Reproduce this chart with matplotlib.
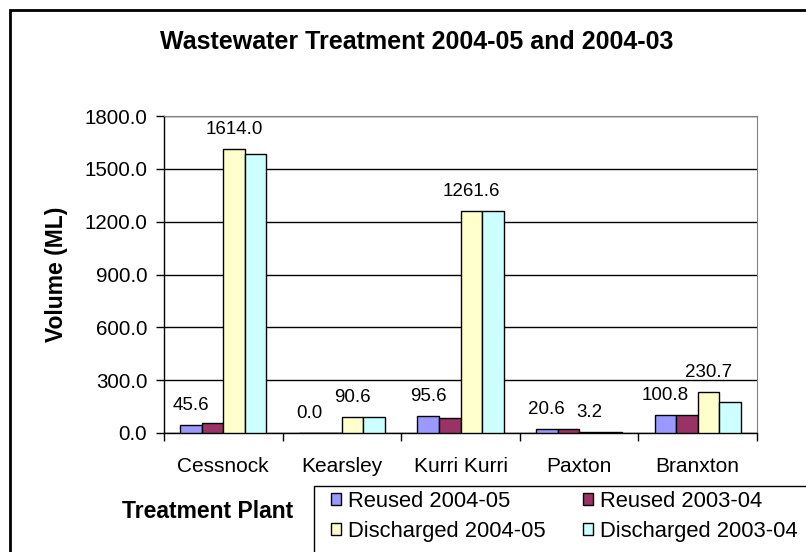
import matplotlib.pyplot as plt
from matplotlib.patches import Rectangle

# dados das estações de tratamento (volumes em ML)
plantas = ["Cessnock", "Kearsley", "Kurri Kurri", "Paxton", "Branxton"]
reused_0405 = [45.6, 0.0, 95.6, 20.6, 100.8]
reused_0304 = [56.0, 0.0, 85.0, 20.0, 100.0]
discharged_0405 = [1614.0, 90.6, 1261.6, 3.2, 230.7]
discharged_0304 = [1585.0, 90.0, 1261.0, 8.0, 175.0]

nomes_series = ["Reused 2004-05", "Reused 2003-04", "Discharged 2004-05", "Discharged 2003-04"]
cores = ["#9999FF", "#993366", "#FFFFCC", "#CCFFFF"]
yticks = [0, 300, 600, 900, 1200, 1500, 1800]

plt.rcParams["font.family"] = ["Liberation Sans", "DejaVu Sans"]

W, H = 806, 552
fig = plt.figure(figsize=(W / 100, H / 100), dpi=100)
ax = fig.add_axes([164 / W, 1 - 433 / H, (757 - 164) / W, (433 - 116) / H])

series = [reused_0405, reused_0304, discharged_0405, discharged_0304]
largura = 1 / 5.5
x = list(range(len(plantas)))

barras = []
for i, valores in enumerate(series):
    pos = [xi + (i - 1.5) * largura for xi in x]
    b = ax.bar(pos, valores, width=largura, color=cores[i], edgecolor="black",
               linewidth=1, label=nomes_series[i], zorder=3)
    barras.append(b)

# rótulos só nas séries de 2004-05
for i in [0, 2]:
    ax.bar_label(barras[i], labels=[f"{v:.1f}" for v in series[i]], padding=8,
                 fontsize=13.5)

ax.set_xlim(-0.5, len(plantas) - 0.5)
ax.set_ylim(0, 1800)
ax.set_yticks(yticks)
ax.set_yticklabels([f"{v:.1f}" for v in yticks], fontsize=14.8)
ax.set_xticks(x)
ax.set_xticklabels(plantas, fontsize=15)
ax.set_xticks([xi - 0.5 for xi in range(len(plantas) + 1)], minor=True)
ax.tick_params(axis="x", which="major", length=0, pad=17)
ax.tick_params(axis="x", which="minor", length=6, width=1, direction="out")
ax.tick_params(axis="y", length=6, width=1, direction="out", pad=6)

ax.grid(axis="y", color="black", linewidth=1, zorder=0)
for lado in ["top", "right"]:
    ax.spines[lado].set_color("#808080")
ax.spines["left"].set_linewidth(1)
ax.spines["bottom"].set_linewidth(1)

ax.set_ylabel("Volume (ML)", fontsize=16.5, fontweight="bold", labelpad=12)

fig.text(417 / W, 1 - 42 / H, "Wastewater Treatment 2004-05 and 2004-03",
         fontsize=18, fontweight="bold", ha="center", va="center")
fig.text(208 / W, 1 - 511 / H, "Treatment Plant", fontsize=16.5,
         fontweight="bold", ha="center", va="center")

# legenda embaixo à direita (ordem por linha, como no Excel)
h, l = ax.get_legend_handles_labels()
ordem = [0, 2, 1, 3]
fig.legend([h[k] for k in ordem], [l[k] for k in ordem],
           loc="upper left", bbox_to_anchor=(331 / W, 1 - 491 / H), ncol=2,
           frameon=False, fontsize=15.8, handlelength=0.47, handleheight=0.47,
           handletextpad=0.3, columnspacing=1.7, labelspacing=0.4,
           borderaxespad=0, borderpad=0)
fig.patches.append(Rectangle((314 / W, -0.1), 1.0, 1 - 486 / H + 0.1,
                             transform=fig.transFigure, fill=False,
                             edgecolor="black", linewidth=1))

# moldura externa do gráfico
fig.patches.append(Rectangle((10 / W, -0.1), 1.1, 1 - 10 / H + 0.1,
                             transform=fig.transFigure, fill=False,
                             edgecolor="black", linewidth=2))

fig.savefig("out.png", dpi=100)
